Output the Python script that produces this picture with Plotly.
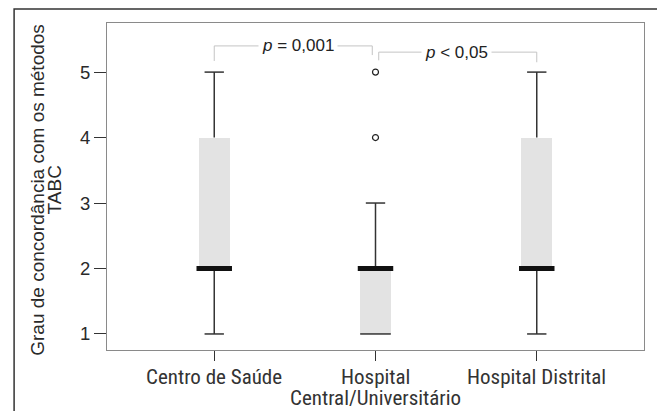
import plotly.graph_objects as go

categories = ["Centro de Saúde", "Hospital<br>Central/Universitário", "Hospital Distrital"]
lower_whisker = [1, 1, 1]
q1 = [2, 1, 2]
median = [2, 2, 2]
q3 = [4, 2, 4]
upper_whisker = [5, 3, 5]
outlier_x = [1, 1]
outlier_y = [4, 5]
y_ticks = [1, 2, 3, 4, 5]
y_title = ["Grau de concordância com os métodos", "TABC"]
p_labels = ["<i>p</i> = 0,001", "<i>p</i> < 0,05"]

xs = list(range(len(categories)))
box_w = 0.19
med_w = 0.22
cap_w = 0.12

fig = go.Figure()

# boxes
fig.add_trace(go.Bar(x=xs, y=[b - a for a, b in zip(q1, q3)], base=q1, width=box_w,
                     marker=dict(color="#e3e3e3", line=dict(width=0)), hoverinfo="skip"))

# whiskers
wx, wy = [], []
for x, lo, a, b, hi in zip(xs, lower_whisker, q1, q3, upper_whisker):
    if hi > b:
        wx += [x, x, None, x - cap_w / 2, x + cap_w / 2, None]
        wy += [b, hi, None, hi, hi, None]
    if lo < a:
        wx += [x, x, None, x - cap_w / 2, x + cap_w / 2, None]
        wy += [a, lo, None, lo, lo, None]
    else:
        wx += [x - box_w / 2, x + box_w / 2, None]
        wy += [lo, lo, None]
fig.add_trace(go.Scatter(x=wx, y=wy, mode="lines", line=dict(color="#333333", width=1.5),
                         hoverinfo="skip"))

# medians
mx, my = [], []
for x, m in zip(xs, median):
    mx += [x - med_w / 2, x + med_w / 2, None]
    my += [m, m, None]
fig.add_trace(go.Scatter(x=mx, y=my, mode="lines", line=dict(color="#111111", width=5),
                         hoverinfo="skip"))

# outliers
fig.add_trace(go.Scatter(x=outlier_x, y=outlier_y, mode="markers",
                         marker=dict(symbol="circle-open", size=6, color="#222",
                                     line=dict(width=1.2)), hoverinfo="skip"))

# significance brackets
bx = [0, 0, 0.98, 0.98, None, 1.02, 1.02, 2, 2]
by = [5.17, 5.40, 5.40, 5.26, None, 5.18, 5.305, 5.305, 5.15]
fig.add_trace(go.Scatter(x=bx, y=by, mode="lines", line=dict(color="#c4c4c4", width=1),
                         hoverinfo="skip"))

fig.add_annotation(x=0.52, y=5.40, text=p_labels[0], showarrow=False, bgcolor="white",
                   borderpad=3, font=dict(family="Liberation Sans, Arial", size=17, color="#222"))
fig.add_annotation(x=1.50, y=5.305, text=p_labels[1], showarrow=False, bgcolor="white",
                   borderpad=3, font=dict(family="Liberation Sans, Arial", size=17, color="#222"))

# category labels (one line per annotation to keep the tight line spacing)
cat_font = dict(family="Roboto Condensed, Liberation Sans Narrow, sans-serif", size=21, color="#333333")
for x, label in zip(xs, categories):
    for i, line in enumerate(label.split("<br>")):
        fig.add_annotation(x=x, y=0, xref="x", yref="paper", text=line, showarrow=False,
                           yanchor="middle", yshift=-27 - 21 * i, font=cat_font)

# y-axis title, two tightly spaced lines
title_font = dict(family="Liberation Sans, Arial", size=19, color="#2a2a2a")
for i, line in enumerate(y_title):
    fig.add_annotation(x=-0.1285 + 0.031 * i, y=0.49, xref="paper", yref="paper", text=line,
                       showarrow=False, textangle=-90, xanchor="center", yanchor="middle",
                       font=title_font)

# outer frame
fig.add_shape(type="rect", xref="paper", yref="paper", x0=-0.173, x1=1.2, y0=-0.4, y1=1.043,
              line=dict(color="#333", width=1.5), layer="below")

fig.update_layout(
    width=657, height=411,
    margin=dict(l=107, r=13, t=23, b=61),
    plot_bgcolor="white", paper_bgcolor="white",
    showlegend=False,
    xaxis=dict(range=[-0.665, 2.665], tickmode="array", tickvals=xs, showticklabels=False,
               showline=True, linecolor="#8a8a8a", linewidth=1, mirror=True,
               ticks="outside", ticklen=10, tickcolor="#333", showgrid=False, zeroline=False),
    yaxis=dict(range=[0.755, 5.75], tickmode="array", tickvals=y_ticks,
               showline=True, linecolor="#8a8a8a", linewidth=1, mirror=True,
               ticks="outside", ticklen=12, tickcolor="#333", showgrid=False, zeroline=False,
               tickfont=dict(family="Liberation Sans, Arial", size=18.5, color="#2a2a2a")),
    bargap=0,
)

fig.write_html("out.html", config={"displayModeBar": False},
               post_script="document.body.style.margin='0';")
